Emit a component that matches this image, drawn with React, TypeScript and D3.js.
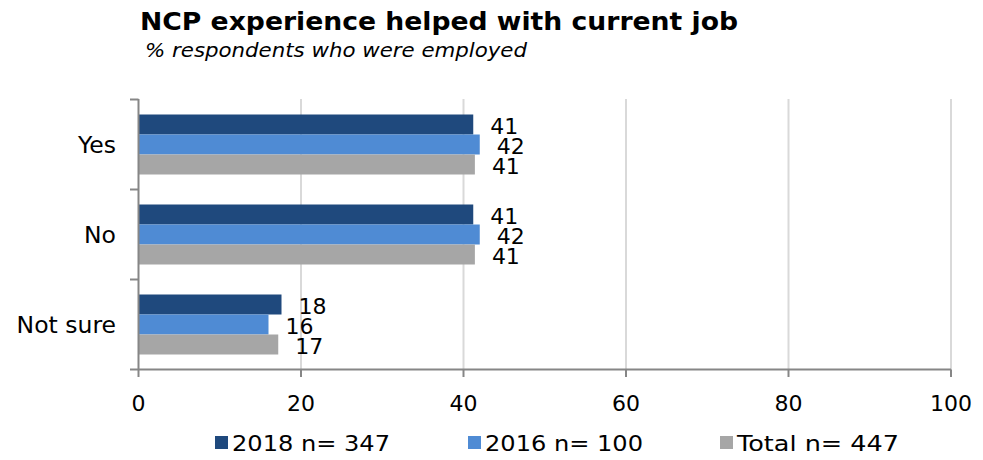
import * as d3 from "d3";

const categories = ["Yes", "No", "Not sure"];
const seriesNames = ["2018 n= 347", "2016 n= 100", "Total n= 447"];
const values2018 = [41.2, 41.2, 17.6];
const values2016 = [42.0, 42.0, 16.0];
const valuesTotal = [41.4, 41.4, 17.2];
const xTicks = [0, 20, 40, 60, 80, 100];
const colors = ["#1f497d", "#4f8bd4", "#a6a6a6"];

const W = 983;
const H = 460;
const FONT = "'DejaVu Sans', Verdana, sans-serif";

export default function App() {
  const series = [values2018, values2016, valuesTotal];

  const x = d3.scaleLinear().domain([0, 100]).range([138.5, 951]);
  const y = d3.scaleBand().domain(categories).range([99.5, 369.5]).paddingInner(1 / 3).paddingOuter(1 / 6);
  const sub = d3.scaleBand().domain(seriesNames).range([0, y.bandwidth()]);

  const legendX = [215, 468, 720];
  // category separators: top of axis plus the end of each band step
  const sepY = [99.5, ...categories.map((_, i) => 99.5 + y.step() * (i + 1))];

  return (
    <svg width={W} height={H} style={{ position: "absolute", left: 0, top: 0 }} fontFamily={FONT}>
      <rect width={W} height={H} fill="#fff" />
      <text x={140} y={30} fontSize={24} fontWeight="bold" textLength={598} lengthAdjust="spacingAndGlyphs">
        NCP experience helped with current job
      </text>
      <text x={145} y={57} fontSize={19} fontStyle="italic" textLength={382} lengthAdjust="spacingAndGlyphs">
        % respondents who were employed
      </text>

      {/* gridlines */}
      {xTicks.slice(1).map((t) => (
        <line key={t} x1={x(t)} x2={x(t)} y1={99} y2={370} stroke="#d9d9d9" strokeWidth={2} />
      ))}

      {/* bars */}
      {categories.map((c, i) => (
        <g key={c}>
          {series.map((vals, s) => {
            const y0 = (y(c) ?? 0) + (sub(seriesNames[s]) ?? 0);
            return (
              <g key={s}>
                <rect x={x(0)} y={y0} width={x(vals[i]) - x(0)} height={sub.bandwidth()} fill={colors[s]} />
                <text x={x(vals[i]) + 17} y={y0 + sub.bandwidth() / 2 + 9} fontSize={22} fill="#000">
                  {d3.format(".0f")(vals[i])}
                </text>
              </g>
            );
          })}
        </g>
      ))}

      {/* y axis */}
      <line x1={x(0)} x2={x(0)} y1={99} y2={370} stroke="#868686" strokeWidth={2} />
      {sepY.map((v, i) => (
        <line key={i} x1={130} x2={x(0)} y1={v} y2={v} stroke="#868686" strokeWidth={2} />
      ))}
      {categories.map((c) => (
        <text key={c} x={116} y={(y(c) ?? 0) + y.bandwidth() / 2 + 8} fontSize={23.5} textAnchor="end">
          {c}
        </text>
      ))}

      {/* x axis */}
      <line x1={x(0)} x2={x(100)} y1={369.5} y2={369.5} stroke="#868686" strokeWidth={2} />
      {xTicks.map((t) => (
        <g key={t}>
          <line x1={x(t)} x2={x(t)} y1={369.5} y2={377} stroke="#868686" strokeWidth={2} />
          <text x={x(t)} y={411} fontSize={22} textAnchor="middle">
            {t}
          </text>
        </g>
      ))}

      {/* legend */}
      {seriesNames.map((n, i) => (
        <g key={n}>
          <rect x={legendX[i]} y={436} width={13} height={13} fill={colors[i]} />
          <text x={legendX[i] + 17} y={451} fontSize={22} textLength={i === 2 ? 162 : 158} lengthAdjust="spacingAndGlyphs">
            {n}
          </text>
        </g>
      ))}
    </svg>
  );
}
